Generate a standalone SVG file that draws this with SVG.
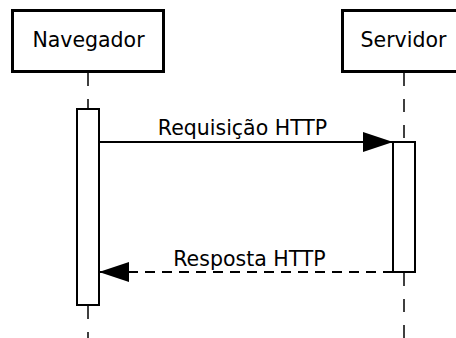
<svg xmlns="http://www.w3.org/2000/svg" width="456" height="338" viewBox="0 0 456 338">
<defs>
<style>
.box{fill:#fff;stroke:#000;stroke-width:3}
.act{fill:#fff;stroke:#000;stroke-width:2}
.life{stroke:#000;stroke-width:1.5;stroke-dasharray:13,13;fill:none}
.msg{stroke:#000;stroke-width:2;fill:none}
.dash{stroke-dasharray:10,7}
text{font-family:"DejaVu Sans",sans-serif;font-size:20.5px;fill:#000}
</style>
<marker id="ah" markerWidth="30" markerHeight="20" refX="30" refY="10" orient="auto" markerUnits="userSpaceOnUse">
<path d="M0,0 L30,10 L0,20 Z" fill="#000"/>
</marker>
</defs>
<g id="lifelines">
<line class="life" x1="88" y1="73" x2="88" y2="108"/>
<line class="life" x1="88" y1="306" x2="88" y2="338"/>
<line class="life" x1="404" y1="73" x2="404" y2="142"/>
<line class="life" x1="404" y1="273" x2="404" y2="338"/>
</g>
<g id="navegador">
<rect class="box" x="12.5" y="10.5" width="151" height="61"/>
<text x="88.5" y="47" text-anchor="middle">Navegador</text>
</g>
<g id="servidor">
<rect class="box" x="342.5" y="10.5" width="125" height="61"/>
<text x="403.5" y="47" text-anchor="middle">Servidor</text>
</g>
<g id="navegador-activation">
<rect class="act" x="77" y="109" width="22" height="196"/>
</g>
<g id="servidor-activation">
<rect class="act" x="393" y="142" width="22" height="130"/>
</g>
<g id="connectors">
<line class="msg" x1="99" y1="142" x2="393" y2="142" marker-end="url(#ah)"/>
<text x="242.5" y="135" text-anchor="middle">Requisição HTTP</text>
<line class="msg dash" x1="393" y1="272" x2="99" y2="272" marker-end="url(#ah)"/>
<text x="249.5" y="266" text-anchor="middle">Resposta HTTP</text>
</g>
</svg>
